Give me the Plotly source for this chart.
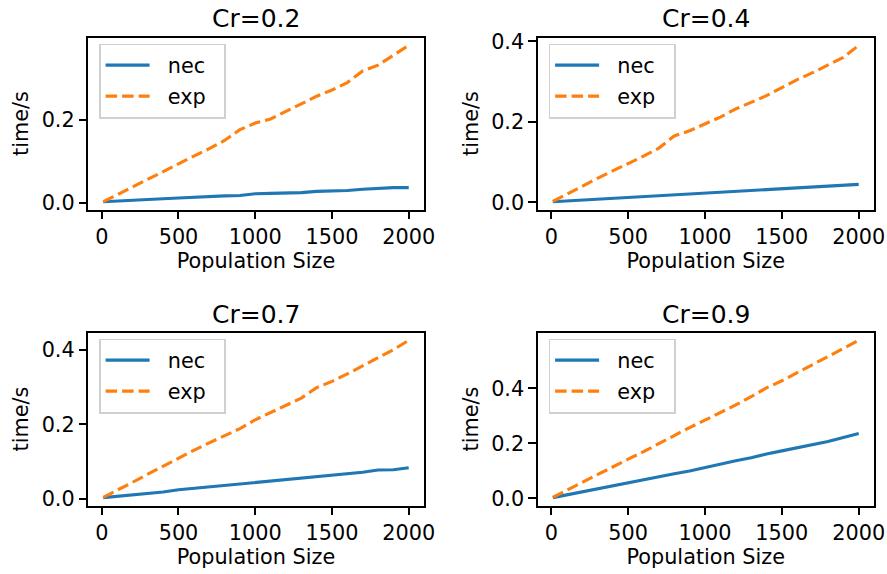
import plotly.graph_objects as go

population = [10, 100, 200, 300, 400, 500, 600, 700, 800, 900, 1000,
              1100, 1200, 1300, 1400, 1500, 1600, 1700, 1800, 1900, 2000]

cr_labels = ["Cr=0.2", "Cr=0.4", "Cr=0.7", "Cr=0.9"]
series_names = ["nec", "exp"]

nec_02 = [0.002, 0.004, 0.006, 0.007, 0.009, 0.011, 0.013, 0.014, 0.016, 0.017, 0.021,
          0.022, 0.023, 0.024, 0.027, 0.028, 0.029, 0.032, 0.034, 0.036, 0.036]
exp_02 = [0.002, 0.019, 0.038, 0.056, 0.075, 0.093, 0.112, 0.130, 0.150, 0.176, 0.192,
          0.202, 0.220, 0.238, 0.257, 0.272, 0.290, 0.318, 0.332, 0.356, 0.380]

nec_04 = [0.002, 0.004, 0.006, 0.008, 0.010, 0.012, 0.014, 0.016, 0.019, 0.021, 0.023,
          0.025, 0.027, 0.029, 0.031, 0.033, 0.036, 0.038, 0.041, 0.043, 0.045]
exp_04 = [0.003, 0.020, 0.040, 0.060, 0.078, 0.097, 0.115, 0.135, 0.165, 0.178, 0.195,
          0.212, 0.232, 0.248, 0.265, 0.285, 0.305, 0.322, 0.340, 0.360, 0.390]

nec_07 = [0.003, 0.006, 0.010, 0.014, 0.018, 0.024, 0.028, 0.031, 0.035, 0.039, 0.043,
          0.047, 0.051, 0.055, 0.059, 0.062, 0.066, 0.071, 0.077, 0.078, 0.083]
exp_07 = [0.004, 0.022, 0.044, 0.066, 0.088, 0.110, 0.130, 0.150, 0.170, 0.188, 0.212,
          0.232, 0.252, 0.270, 0.298, 0.315, 0.335, 0.357, 0.378, 0.400, 0.425]

nec_09 = [0.003, 0.013, 0.025, 0.036, 0.048, 0.059, 0.070, 0.080, 0.090, 0.100, 0.113,
          0.125, 0.137, 0.148, 0.162, 0.173, 0.184, 0.196, 0.207, 0.222, 0.236]
exp_09 = [0.004, 0.030, 0.058, 0.087, 0.115, 0.143, 0.170, 0.200, 0.228, 0.258, 0.285,
          0.312, 0.340, 0.370, 0.402, 0.428, 0.457, 0.486, 0.516, 0.545, 0.575]

nec_series = [nec_02, nec_04, nec_07, nec_09]
exp_series = [exp_02, exp_04, exp_07, exp_09]

x_ticks = [0, 500, 1000, 1500, 2000]
y_ticks = [[0.0, 0.2], [0.0, 0.2, 0.4], [0.0, 0.2, 0.4], [0.0, 0.2, 0.4]]

W, H = 887, 574
BLUE = "#1f77b4"
ORANGE = "#ff7f0e"
FONT = "DejaVu Sans"
FS = 20.8
TFS = 25

# axes boxes in pixels (left, right, top, bottom)
boxes = [(88, 424, 37.5, 209.5), (537.5, 874, 37.5, 209.5),
         (88, 424, 332.5, 505.5), (537.5, 874, 332.5, 505.5)]

fig = go.Figure()
layout = dict(width=W, height=H, margin=dict(l=0, r=0, t=0, b=0, autoexpand=False),
              paper_bgcolor="white", plot_bgcolor="white",
              font=dict(family=FONT, size=FS, color="black"),
              annotations=[])

def pad(vals):
    lo, hi = min(vals), max(vals)
    d = (hi - lo) * 0.05
    return [lo - d, hi + d]

NB = "\u00a0"

for i in range(4):
    n = "" if i == 0 else str(i + 1)
    lg = "legend" + n
    l, r, t, b = boxes[i]
    fig.add_trace(go.Scatter(x=population, y=nec_series[i], mode="lines",
                             name=NB + NB + series_names[0] + NB + NB,
                             line=dict(color=BLUE, width=3.1),
                             xaxis="x" + n, yaxis="y" + n, legend=lg,
                             legendgroup="nec" + n))
    fig.add_trace(go.Scatter(x=population, y=exp_series[i], mode="lines",
                             name=NB + NB + series_names[1] + NB + NB,
                             line=dict(color=ORANGE, width=3.1, dash="11.5px,5px"),
                             xaxis="x" + n, yaxis="y" + n, legend=lg,
                             legendgroup="exp" + n))
    axis_common = dict(showline=True, linecolor="black", linewidth=1.67, mirror=True,
                       ticks="outside", ticklen=7.3, tickwidth=1.67, tickcolor="black",
                       showgrid=False, zeroline=False, automargin=False,
                       tickfont=dict(family=FONT, size=FS, color="black"))
    layout["xaxis" + n] = dict(axis_common,
                               domain=[l / W, r / W], anchor="y" + n,
                               range=pad(population), tickvals=x_ticks,
                               ticktext=[str(v) for v in x_ticks],
                               title=dict(text="Population Size", standoff=5,
                                          font=dict(family=FONT, size=FS)))
    all_y = nec_series[i] + exp_series[i]
    layout["yaxis" + n] = dict(axis_common,
                               domain=[1 - b / H, 1 - t / H], anchor="x" + n,
                               range=pad(all_y), tickvals=y_ticks[i],
                               ticktext=["%.1f" % v for v in y_ticks[i]],
                               title=dict(text="time/s", standoff=7,
                                          font=dict(family=FONT, size=FS)))
    layout[lg] = dict(x=(l + 11) / W, y=1 - (t + 6) / H, xanchor="left", yanchor="top",
                      bgcolor="white", bordercolor="#d0d0d0", borderwidth=1.6,
                      font=dict(family=FONT, size=FS, color="black"),
                      itemwidth=44, tracegroupgap=1)
    layout["annotations"].append(dict(text=cr_labels[i], x=(l + r) / 2 / W, y=1 - t / H,
                                      xref="paper", yref="paper", xanchor="center",
                                      yanchor="bottom", yshift=2, showarrow=False,
                                      font=dict(family=FONT, size=TFS, color="black")))

fig.update_layout(**layout)
fig.write_html("out.html")
